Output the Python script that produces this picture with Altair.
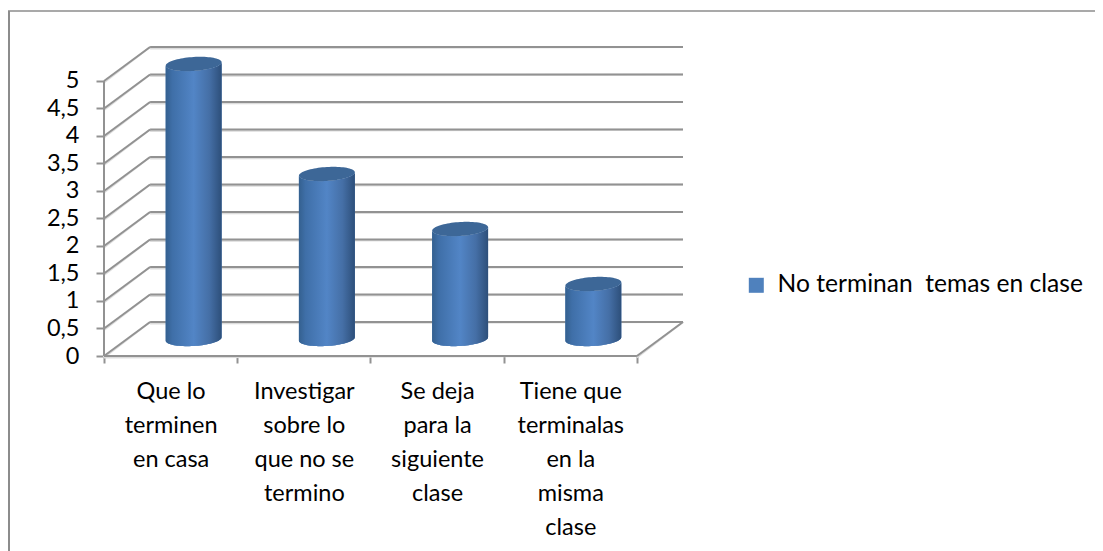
import math
import altair as alt
import pandas as pd

categories = ["Que lo\nterminen\nen casa", "Investigar\nsobre lo\nque no se\ntermino",
              "Se deja\npara la\nsiguiente\nclase", "Tiene que\nterminalas\nen la\nmisma\nclase"]
values = [5, 3, 2, 1]
series_name = "No terminan\u00a0 temas en clase"
y_ticks = [0, 0.5, 1, 1.5, 2, 2.5, 3, 3.5, 4, 4.5, 5]

DX, DY = 0.346, 0.618  # depth of the pseudo-3D floor in axis units
N = len(categories)
xs = alt.Scale(domain=[0, N + DX], nice=False, zero=False)
ys = alt.Scale(domain=[0, 5.636], nice=False, zero=False)
FONT = "Lato"
FS = 23.5
GREY = "#929292"

# wall / floor grid
rows = []
for v in y_ticks:
    rows.append(dict(x=0, x2=DX, y=v, y2=v + DY))
    rows.append(dict(x=DX, x2=N + DX, y=v + DY, y2=v + DY))
rows.append(dict(x=0, x2=N, y=0, y2=0))
rows.append(dict(x=N, x2=N + DX, y=0, y2=DY))
rows.append(dict(x=0, x2=0, y=0, y2=5))
grid_df = pd.DataFrame(rows)
grid_shadow = alt.Chart(grid_df).mark_rule(color="#dcdcdc", strokeWidth=2, yOffset=1.5).encode(
    x=alt.X("x:Q", scale=xs, axis=None), x2="x2:Q",
    y=alt.Y("y:Q", scale=ys, axis=None), y2="y2:Q")
grid = alt.Chart(grid_df).mark_rule(color=GREY, strokeWidth=2).encode(
    x=alt.X("x:Q", scale=xs, axis=None), x2="x2:Q",
    y=alt.Y("y:Q", scale=ys, axis=None), y2="y2:Q")

# cylinder outlines derived from the values
A, B, K = 0.21, 7 / 55, 1.7 / 55
us = [-math.cos(math.pi * i / 40) for i in range(41)]
cyl = []
for i, v in enumerate(values):
    cx = i + 0.5 + DX / 2
    for u in us:
        h = B * math.sqrt(max(0, 1 - u * u))
        cyl.append(dict(cat=i, serie=series_name, x=cx + A * u,
                        top_up=v + DY / 2 + K * u + h,
                        top_lo=v + DY / 2 + K * u - h,
                        bot_lo=DY / 2 + K * u - h))
cdf = pd.DataFrame(cyl)

under = alt.Chart(cdf).mark_area(orient="vertical").encode(
    x=alt.X("x:Q", scale=xs, axis=None),
    y=alt.Y("top_lo:Q", scale=ys, axis=None), y2="bot_lo:Q",
    detail="cat:N",
    color=alt.Color("serie:N", scale=alt.Scale(domain=[series_name], range=["#4f81bd"]),
                    legend=alt.Legend(title=None, orient="none", legendX=640, legendY=227,
                                      symbolType="square", symbolSize=225, symbolStrokeWidth=0,
                                      symbolOpacity=1, labelFont=FONT, labelFontSize=24.6,
                                      labelColor="#000000", labelLimit=400, labelOffset=9,
                                      padding=0)))

grad = alt.Gradient(gradient="linear", x1=0, x2=1, y1=0, y2=0, stops=[
    alt.GradientStop(offset=0, color="#34608f"),
    alt.GradientStop(offset=0.12, color="#3f6fa8"),
    alt.GradientStop(offset=0.5, color="#5285c6"),
    alt.GradientStop(offset=0.78, color="#456fa6"),
    alt.GradientStop(offset=1, color="#2d4f7a")])
body = alt.Chart(cdf).mark_area(orient="vertical", color=grad).encode(
    x=alt.X("x:Q", scale=xs, axis=None),
    y=alt.Y("top_lo:Q", scale=ys, axis=None), y2="bot_lo:Q", detail="cat:N")
cap = alt.Chart(cdf).mark_area(orient="vertical", color="#3d6797").encode(
    x=alt.X("x:Q", scale=xs, axis=None),
    y=alt.Y("top_up:Q", scale=ys, axis=None), y2="top_lo:Q", detail="cat:N")

# axes
base_ticks = pd.DataFrame({"x": [0.0], "y": [0.0]})
label_js = "[" + ",".join("'" + c.replace("\n", "|") + "'" for c in categories) + "]"
x_tick_axis = alt.Chart(base_ticks).mark_point(opacity=0).encode(
    x=alt.X("x:Q", scale=xs, title=None,
            axis=alt.Axis(values=list(range(N + 1)), labels=False, domain=False, grid=False,
                          tickSize=7, tickColor=GREY, tickWidth=2, orient="bottom")),
    y=alt.Y("y:Q", scale=ys, title=None,
            axis=alt.Axis(values=y_ticks, domain=False, grid=False, tickSize=8, tickColor=GREY,
                          tickWidth=2, labelFont=FONT, labelFontSize=FS, labelColor="#000000",
                          labelPadding=17,
                          labelExpr="replace(toString(datum.value), '.', ',')")))
x_label_axis = alt.Chart(base_ticks).mark_point(opacity=0).encode(
    x=alt.X("x:Q", scale=xs, title=None,
            axis=alt.Axis(values=[i + 0.5 for i in range(N)], domain=False, grid=False, ticks=False,
                          orient="bottom", labelFont=FONT, labelFontSize=FS, labelColor="#000000",
                          labelPadding=23, labelLineHeight=34, labelBaseline="top", labelAlign="center",
                          labelLimit=300, labelOverlap=False, labelBound=False, labelFlush=False,
                          labelExpr="split(" + label_js + "[floor(datum.value)], '|')")),
    y=alt.Y("y:Q", scale=ys, axis=None))

# frame of the chart area
frame_top = alt.Chart(base_ticks).mark_rule(color="#8c8c8c", strokeWidth=1.5).encode(
    x=alt.value(-96), x2=alt.value(991), y=alt.value(-35))
frame_left = alt.Chart(base_ticks).mark_rule(color="#8c8c8c", strokeWidth=2).encode(
    x=alt.value(-95), y=alt.value(-35), y2=alt.value(505))

chart = (alt.layer(frame_top, frame_left, x_tick_axis, x_label_axis, grid_shadow, grid, under, body, cap)
         .resolve_axis(x="independent", y="independent")
         .properties(width=579, height=310,
                     autosize=alt.AutoSizeParams(type="none"),
                     padding={"left": 96, "top": 38, "right": 412, "bottom": 195},
                     background="#ffffff")
         .configure_view(stroke=None))
chart.save("out.html", embed_options={"renderer": "svg", "actions": False})
